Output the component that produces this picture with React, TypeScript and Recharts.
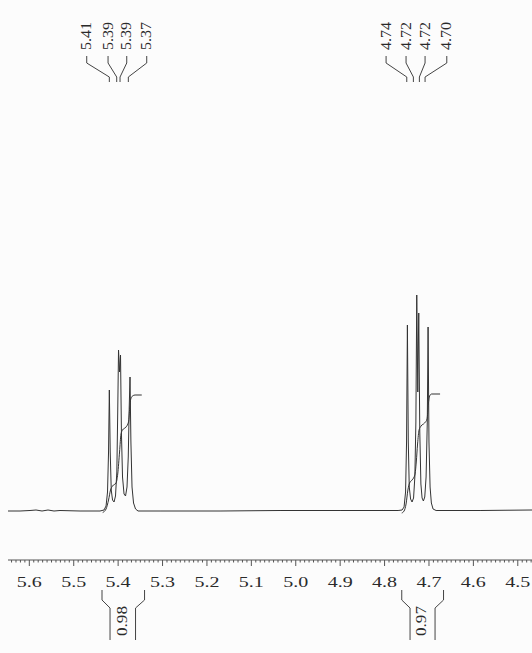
import React from 'react';
import { LineChart, Line, XAxis, YAxis, ReferenceDot, ReferenceLine } from 'recharts';

// ---- data (ppm, intensity) ----
const baselineLeft: [number, number][] = [
  [5.648, 1], [5.6209, 1], [5.5984, 1.5], [5.5849, 2], [5.5714, 1], [5.5579, 2],
  [5.5444, 1], [5.5309, 1.5], [5.4858, 1], [5.4408, 1],
];
const multipletA: [number, number][] = [
  [5.4318, 2], [5.4272, 6], [5.4239, 20], [5.4216, 60], [5.4198, 122], [5.4178, 60],
  [5.4155, 22], [5.4126, 12], [5.4092, 10], [5.4059, 16], [5.4029, 40], [5.4009, 100],
  [5.3991, 162], [5.3968, 140], [5.3946, 157], [5.3926, 80], [5.3901, 35], [5.3867, 18],
  [5.3833, 16], [5.38, 25], [5.3772, 55], [5.375, 105], [5.3732, 135], [5.3712, 70],
  [5.3687, 25], [5.3653, 9], [5.3608, 3], [5.3552, 1],
];
const baselineMid: [number, number][] = [
  [5.3056, 1], [5.1705, 1], [5.0354, 1.5], [4.9002, 1.5], [4.7696, 1.5],
];
const multipletB: [number, number][] = [
  [4.7606, 2], [4.7561, 5], [4.7527, 20], [4.7505, 70], [4.7486, 187], [4.7466, 70],
  [4.7444, 25], [4.7414, 13], [4.7381, 10], [4.7347, 14], [4.7318, 35], [4.7295, 90],
  [4.7275, 217], [4.7252, 120], [4.723, 199], [4.7207, 80], [4.7182, 28], [4.7155, 14],
  [4.7126, 11], [4.7095, 15], [4.7065, 35], [4.7038, 90], [4.702, 185], [4.7, 70],
  [4.6975, 25], [4.6946, 9], [4.6908, 3], [4.684, 1.5],
];
const baselineRight: [number, number][] = [
  [4.5849, 1.5], [4.468, 2],
];
const integralA: [number, number][] = [
  [5.4347, -0.5], [5.4272, 3], [5.4216, 12], [5.4171, 22], [5.4126, 26], [5.4047, 29],
  [5.4009, 38], [5.3968, 60], [5.3935, 78], [5.3901, 82], [5.3822, 85], [5.3766, 90],
  [5.3739, 104], [5.3716, 113], [5.3676, 116], [5.3619, 117], [5.3468, 117],
];
const integralB: [number, number][] = [
  [4.7613, -1], [4.7561, 1], [4.7516, 8], [4.7475, 22], [4.7437, 29], [4.7381, 32],
  [4.7318, 37], [4.7286, 50], [4.7257, 68], [4.7223, 82], [4.7178, 86], [4.7099, 89],
  [4.7043, 93], [4.7014, 108], [4.6986, 116], [4.6941, 118], [4.675, 118],
];

// peak annotations
const peakLabelsA = ['5.41', '5.39', '5.39', '5.37'];
const peakLabelPpmA = [5.4707, 5.4227, 5.3806, 5.3356];
const peakPpmA = [5.4198, 5.4032, 5.3957, 5.377];
const peakLabelsB = ['4.74', '4.72', '4.72', '4.70'];
const peakLabelPpmB = [4.7966, 4.7516, 4.7088, 4.6599];
const peakPpmB = [4.75, 4.7351, 4.7216, 4.7088];

// integrals
const integralLabels = ['0.98', '0.97'];
const integralRanges: [number, number][] = [[5.4363, 5.3405], [4.7613, 4.6672]];
const integralInner: [number, number][] = [[5.4182, 5.3608], [4.7426, 4.6863]];
const integralLabelPpm = [5.3912, 4.7178];

// axis
const majorTickLabels = ['5.6', '5.5', '5.4', '5.3', '5.2', '5.1', '5.0', '4.9', '4.8', '4.7', '4.6', '4.5'];
const xDomain: [number, number] = [4.468, 5.648];

const toRows = (arr: [number, number][]) => arr.map(([ppm, h]) => ({ ppm, h }));
const spectrum = toRows([...baselineLeft, ...multipletA, ...baselineMid, ...multipletB, ...baselineRight]);

const minorTicks: number[] = [];
for (let k = 564; k >= 447; k--) minorTicks.push(k / 100);

const INK = '#333';
const FONT = '"Liberation Serif", "DejaVu Serif", serif';

const RulerTick = (props: any) => {
  const { x, y, payload } = props;
  const k = Math.round(payload.value * 100);
  const major = k % 10 === 0;
  const label = majorTickLabels.find((s) => Math.round(parseFloat(s) * 100) === k);
  return (
    <g>
      <line x1={x} x2={x} y1={y} y2={y + (major ? 6 : 2.5)} stroke="#555" strokeWidth={1} />
      {major && label && (
        <text
          x={x}
          y={y + 27}
          textAnchor="middle"
          fontFamily={FONT}
          fontSize={15}
          fill="#2a2a2a"
          textLength={25}
          lengthAdjust="spacingAndGlyphs"
        >
          {label}
        </text>
      )}
    </g>
  );
};

const rotatedText = (text: string, size: number, len: number) => (p: any) => (
  <text
    x={p.cx}
    y={p.cy}
    transform={`rotate(-90 ${p.cx} ${p.cy})`}
    textAnchor="middle"
    dominantBaseline="central"
    fontFamily={FONT}
    fontSize={size}
    fill="#2a2a2a"
    textLength={len}
    lengthAdjust="spacingAndGlyphs"
  >
    {text}
  </text>
);

export default function App() {
  const connectors: { key: string; data: { ppm: number; h: number }[] }[] = [];
  const addConnectors = (labelPpm: number[], peakPpm: number[], tag: string) => {
    labelPpm.forEach((lp, i) => {
      connectors.push({
        key: `${tag}${i}`,
        data: [
          { ppm: lp, h: 456 },
          { ppm: lp, h: 449 },
          { ppm: peakPpm[i], h: 435 },
          { ppm: peakPpm[i], h: 430 },
        ],
      });
    });
  };
  addConnectors(peakLabelPpmA, peakPpmA, 'a');
  addConnectors(peakLabelPpmB, peakPpmB, 'b');

  return (
    <div style={{ position: 'absolute', left: 0, top: 0, width: 532, height: 653, background: '#fcfcfc' }}>
      <LineChart width={532} height={653} data={spectrum} margin={{ top: 0, right: 0, bottom: 0, left: 8 }}>
        <XAxis
          dataKey="ppm"
          type="number"
          domain={xDomain}
          reversed
          ticks={minorTicks}
          interval={0}
          height={93}
          tickSize={0}
          tickMargin={0}
          tickLine={false}
          axisLine={{ stroke: '#555', strokeWidth: 1 }}
          tick={<RulerTick />}
        />
        <YAxis type="number" domain={[-48, 512]} hide />
        <Line
          dataKey="h"
          type="linear"
          stroke={INK}
          strokeWidth={1}
          dot={false}
          isAnimationActive={false}
        />
        <Line data={toRows(integralA)} dataKey="h" type="monotone" stroke={INK} strokeWidth={1} dot={false} isAnimationActive={false} />
        <Line data={toRows(integralB)} dataKey="h" type="monotone" stroke={INK} strokeWidth={1} dot={false} isAnimationActive={false} />
        {connectors.map((c) => (
          <Line key={c.key} data={c.data} dataKey="h" type="linear" stroke="#444" strokeWidth={1} dot={false} isAnimationActive={false} />
        ))}
        {peakLabelsA.map((t, i) => (
          <ReferenceDot key={`la${i}`} x={peakLabelPpmA[i]} y={476} r={0} ifOverflow="visible" shape={rotatedText(t, 14, 28)} />
        ))}
        {peakLabelsB.map((t, i) => (
          <ReferenceDot key={`lb${i}`} x={peakLabelPpmB[i]} y={476} r={0} ifOverflow="visible" shape={rotatedText(t, 14, 28)} />
        ))}
        {integralLabels.map((t, i) => {
          const [l, r] = integralRanges[i];
          const [il, ir] = integralInner[i];
          return (
            <React.Fragment key={`int${i}`}>
              <ReferenceLine segment={[{ x: l, y: -78 }, { x: l, y: -88 }]} stroke="#444" ifOverflow="visible" />
              <ReferenceLine segment={[{ x: l, y: -88 }, { x: il, y: -96 }]} stroke="#444" ifOverflow="visible" />
              <ReferenceLine segment={[{ x: il, y: -96 }, { x: il, y: -128 }]} stroke="#444" ifOverflow="visible" />
              <ReferenceLine segment={[{ x: r, y: -78 }, { x: r, y: -88 }]} stroke="#444" ifOverflow="visible" />
              <ReferenceLine segment={[{ x: r, y: -88 }, { x: ir, y: -96 }]} stroke="#444" ifOverflow="visible" />
              <ReferenceLine segment={[{ x: ir, y: -96 }, { x: ir, y: -128 }]} stroke="#444" ifOverflow="visible" />
              <ReferenceDot x={integralLabelPpm[i]} y={-109} r={0} ifOverflow="visible" shape={rotatedText(t, 14, 30)} />
            </React.Fragment>
          );
        })}
      </LineChart>
    </div>
  );
}
